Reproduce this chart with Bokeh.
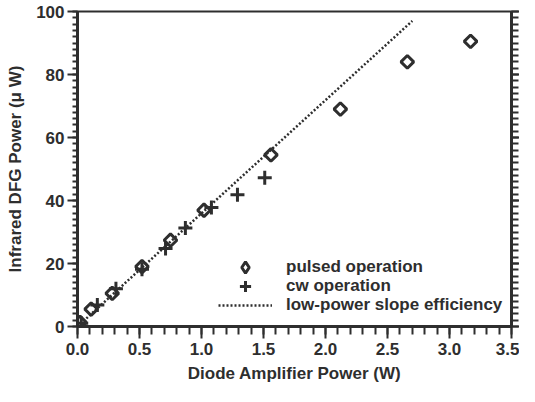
from bokeh.plotting import figure
from bokeh.models import (LinearAxis, Range1d, SingleIntervalTicker, Legend, LegendItem,
                          NumeralTickFormatter, CustomJSTickFormatter)
from bokeh.embed import file_html
from bokeh.resources import INLINE

# Data
pulsed_x = [0.02, 0.11, 0.28, 0.52, 0.75, 1.02, 1.56, 2.12, 2.66, 3.17]
pulsed_y = [1.3, 5.5, 10.5, 19.0, 27.4, 36.9, 54.5, 69.0, 84.0, 90.5]
cw_x = [0.03, 0.16, 0.31, 0.52, 0.71, 0.87, 1.08, 1.29, 1.51]
cw_y = [1.0, 6.8, 12.0, 18.2, 24.8, 31.3, 37.8, 41.8, 47.2]
slope_x = [0.0, 2.7]
slope_y = [0.0, 97.0]

x_label = "Diode Amplifier Power (W)"
y_label = "Infrared DFG Power (μ W)"
legend_labels = ["pulsed operation", "cw operation", "low-power slope efficiency"]

INK = "#2e2e2e"
FONT = "Liberation Sans"

p = figure(width=519, height=386, x_range=Range1d(0, 3.5), y_range=Range1d(0, 100),
           output_backend="svg", toolbar_location=None,
           min_border_left=77, min_border_right=8, min_border_top=11, min_border_bottom=60)
p.xgrid.visible = False
p.ygrid.visible = False
p.outline_line_color = INK
p.outline_line_width = 2
p.background_fill_color = "white"
p.border_fill_color = "white"

def style_axis(ax, major_out, minor_out):
    ax.axis_line_color = INK
    ax.axis_line_width = 3
    ax.major_tick_line_color = INK
    ax.minor_tick_line_color = INK
    ax.major_tick_line_width = 2
    ax.minor_tick_line_width = 2
    ax.major_tick_in = 0
    ax.minor_tick_in = 0
    ax.major_tick_out = major_out
    ax.minor_tick_out = minor_out
    ax.major_label_text_font = FONT
    ax.major_label_text_font_size = "17px"
    ax.major_label_text_font_style = "bold"
    ax.major_label_text_color = INK
    ax.axis_label_text_font = FONT
    ax.axis_label_text_font_size = "17px"
    ax.axis_label_text_font_style = "bold"
    ax.axis_label_text_color = INK

xax = p.xaxis[0]
xax.ticker = SingleIntervalTicker(interval=0.5, num_minor_ticks=5)
xax.formatter = NumeralTickFormatter(format="0.0")
style_axis(xax, 12, 8)
xax.axis_label = x_label
xax.major_label_standoff = 4
xax.axis_label_standoff = 6

yax = p.yaxis[0]
yax.ticker = SingleIntervalTicker(interval=20, num_minor_ticks=10)
style_axis(yax, 10, 5)
yax.axis_label = y_label
yax.major_label_standoff = 3
yax.axis_label_standoff = 8

rax = LinearAxis(ticker=SingleIntervalTicker(interval=20, num_minor_ticks=10),
                 formatter=CustomJSTickFormatter(code="return ''"))
style_axis(rax, 8, 7)
rax.major_label_standoff = 0
p.add_layout(rax, "right")

r_line = p.line(slope_x, slope_y, line_color=INK, line_width=2.5, line_dash="2 2")
r_pulsed = p.scatter(pulsed_x, pulsed_y, marker="square", size=9, angle=0.785398,
                     fill_color=None, line_color=INK, line_width=3)
r_cw = p.scatter(cw_x, cw_y, marker="cross", size=14, line_color=INK, line_width=3)
# hidden twin of the pulsed series, used only for its legend key (a diamond)
r_pulsed_key = p.scatter(pulsed_x, pulsed_y, marker="diamond", size=13, fill_color=None,
                         line_color=INK, line_width=3, visible=False)

# one legend per entry, stacked 19 px apart, so markers keep a readable size
for i, (lab, rend) in enumerate(zip(legend_labels, [r_pulsed_key, r_cw, r_line])):
    lg = Legend(items=[LegendItem(label=lab, renderers=[rend])],
                location=(141, 7 + 19 * (2 - i)))
    lg.background_fill_alpha = 0
    lg.border_line_alpha = 0
    lg.inactive_fill_alpha = 0
    lg.padding = 0
    lg.margin = 0
    lg.glyph_width = 54
    lg.glyph_height = 28
    lg.label_height = 19
    lg.label_standoff = 14
    lg.label_text_font = FONT
    lg.label_text_font_size = "17px"
    lg.label_text_font_style = "bold"
    lg.label_text_color = INK
    p.add_layout(lg)

open("out.html", "w").write(file_html(p, INLINE))
